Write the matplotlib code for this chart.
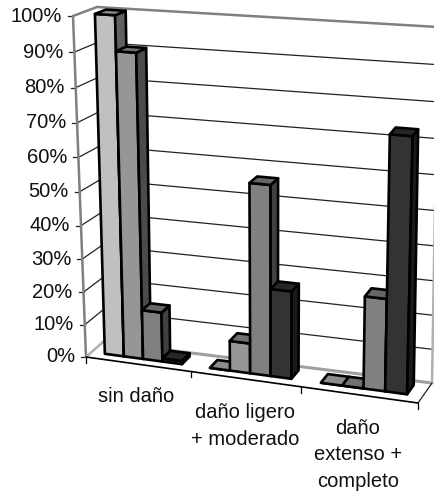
import matplotlib
matplotlib.use('Agg')
import matplotlib.pyplot as plt
from matplotlib.patches import Polygon
import numpy as np

plt.rcParams['font.family'] = ['Liberation Sans', 'DejaVu Sans']

categories = ['sin daño', 'daño ligero\n+ moderado', 'daño\nextenso +\ncompleto']
escenario_1 = [100, 0, 0]
escenario_2 = [90, 9, 0]
escenario_3 = [15, 56, 27]
escenario_4 = [1, 26, 73]
series = [escenario_1, escenario_2, escenario_3, escenario_4]
y_ticks = list(range(0, 101, 10))

front_colors = ['#c0c0c0', '#969696', '#808080', '#333333']
side_colors = ['#606060', '#4b4b4b', '#404040', '#1a1a1a']
top_colors = ['#8c8c8c', '#707070', '#666666', '#262626']

# corners of the 3d box in pixels: (across, depth, height)
box = np.array([
    [[[86, 357], [73, 16]], [[103, 342], [97, 7]]],
    [[[418, 403], [428, 40]], [[432, 383], [438, 27]]],
], dtype=float)


def warp(t, k):
    return k * t / (1 + (k - 1) * t)


def project(u, d, v):
    # u 0..3 categories, d 0..1 depth, v 0..100 percent
    s = warp(u / 3.0, 0.92)
    h = warp(v / 100.0, 0.94)
    p = np.zeros(2)
    for i, wi in enumerate([1 - s, s]):
        for j, wj in enumerate([1 - d, d]):
            for m, wm in enumerate([1 - h, h]):
                p += wi * wj * wm * box[i, j, m]
    return p


def line(ax, a, b, **kw):
    pa, pb = project(*a), project(*b)
    ax.plot([pa[0], pb[0]], [pa[1], pb[1]], solid_capstyle='round', **kw)


fig = plt.figure(figsize=(4.34, 4.99), dpi=100)
ax = fig.add_axes([0, 0, 1, 1])
ax.set_xlim(0, 434)
ax.set_ylim(499, 0)
ax.axis('off')

# gridlines on back and side wall, then ticks
for v in y_ticks[1:-1]:
    line(ax, (0, 0, v), (0, 1, v), color='#222222', lw=0.9, zorder=1)
    line(ax, (0, 1, v), (3, 1, v), color='#222222', lw=0.9, zorder=1)
for v in y_ticks:
    p = project(0, 0, v)
    ax.plot([p[0] - 5, p[0]], [p[1], p[1]], color='#222222', lw=0.9, zorder=1)
    ax.text(p[0] - 11, p[1], '%d%%' % v, ha='right', va='center', fontsize=14.5, color='#111111')

# wall edges
grey = dict(color='#808080', lw=1.8, zorder=1.5)
line(ax, (0, 0, 0), (0, 0, 100), **grey)
line(ax, (0, 0, 100), (0, 1, 100), **grey)
line(ax, (0, 1, 100), (3, 1, 100), **grey)
line(ax, (0, 1, 0), (3, 1, 0), color='#a0a0a0', lw=2.2, zorder=1.5)
line(ax, (0, 0, 0), (0, 1, 0), color='#b0b0b0', lw=1.8, zorder=1.5)
line(ax, (3, 1, 0), (3, 1, 100), color='#b0b0b0', lw=1.8, zorder=1.5)
line(ax, (3, 0, 0), (3, 1, 0), color='#222222', lw=0.9, zorder=1.5)
line(ax, (0, 0, 0), (3, 0, 0), color='black', lw=1.2, zorder=1.5)
for c in range(4):
    p = project(c, 0, 0)
    ax.plot([p[0], p[0]], [p[1], p[1] + 6], color='black', lw=0.9, zorder=1.5)

# bars, left to right so each one covers the side of the previous one
n = len(series)
margin, d0, d1 = 0.13, 0.33, 0.8
w = (1 - 2 * margin) / n
z = 2
for c in range(len(categories)):
    for i in range(n):
        val = series[i][c]
        u0 = c + margin + i * w
        u1 = u0 + w
        faces = [
            ([(u0, d0, 0), (u1, d0, 0), (u1, d0, val), (u0, d0, val)], front_colors[i]),
            ([(u1, d0, 0), (u1, d1, 0), (u1, d1, val), (u1, d0, val)], side_colors[i]),
            ([(u0, d0, val), (u1, d0, val), (u1, d1, val), (u0, d1, val)], top_colors[i]),
        ]
        for pts, col in faces:
            ax.add_patch(Polygon([project(*q) for q in pts], closed=True, facecolor=col,
                                 edgecolor='black', lw=1.9, joinstyle='round', zorder=z))
        z += 1

label_pos = [(136, 397), (245, 426), (358, 455)]
for name, (x, y) in zip(categories, label_pos):
    ax.text(x, y, name, ha='center', va='center', fontsize=14.5, color='#111111', linespacing=1.5)

fig.savefig('out.png', dpi=100)
